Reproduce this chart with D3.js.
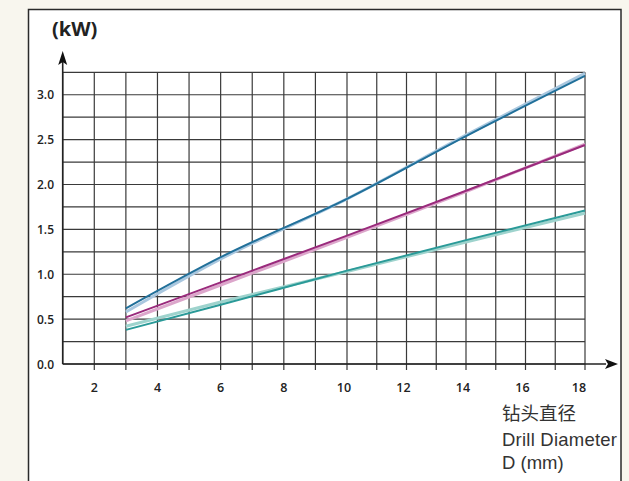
<!DOCTYPE html>
<html><head><meta charset="utf-8">
<script src="https://cdn.jsdelivr.net/npm/d3@7"></script>
<style>
html,body{margin:0;padding:0;background:#f8f6ee;}
svg{display:block;}
</style></head>
<body>
<svg id="chart" width="629" height="481"></svg>
<script>
// ---- data ----
const diameters = [3, 6, 10, 14, 18];
const blueMain   = [0.62, 1.19, 1.84, 2.54, 3.21];
const blueAlt    = [0.58, 1.17, 1.84, 2.55, 3.24];
const pinkMain   = [0.52, 0.91, 1.43, 1.93, 2.44];
const pinkAlt    = [0.48, 0.88, 1.41, 1.92, 2.45];
const tealMain   = [0.38, 0.66, 1.04, 1.38, 1.71];
const tealAlt    = [0.42, 0.69, 1.03, 1.36, 1.68];
const xTicks = [2, 4, 6, 8, 10, 12, 14, 16, 18];
const yTicks = [0.0, 0.5, 1.0, 1.5, 2.0, 2.5, 3.0];
const yUnit = "(kW)";
const xTitle = ["钻头直径", "Drill Diameter", "D (mm)"];

const svg = d3.select("#chart");

// panel
svg.append("rect").attr("x", 28.5).attr("y", 9.5).attr("width", 592.5).attr("height", 490)
  .attr("fill", "#fff").attr("stroke", "#2a2a2a").attr("stroke-width", 1.5);

const x = d3.scaleLinear().domain([1, 10, 18]).range([62.7, 347, 585]);
const y = d3.scaleLinear().domain([0, 3.25]).range([364, 72.3]);

// grid
const g = svg.append("g");
g.selectAll(".vg").data(d3.range(1, 19)).join("line")
  .attr("x1", d => x(d)).attr("x2", d => x(d))
  .attr("y1", y(3.25)).attr("y2", d => d === 1 ? y(0) : y(0) + 6)
  .attr("stroke", "#3a3a3a").attr("stroke-width", 1.2);
g.selectAll(".hg").data(d3.range(0, 14).map(i => i * 0.25)).join("line")
  .attr("x1", x(1)).attr("x2", x(18))
  .attr("y1", d => y(d)).attr("y2", d => y(d))
  .attr("stroke", "#3a3a3a").attr("stroke-width", 1.2);

// axes lines with arrows
svg.append("line").attr("x1", x(1)).attr("x2", 606).attr("y1", y(0)).attr("y2", y(0))
  .attr("stroke", "#222").attr("stroke-width", 1.6);
svg.append("path").attr("d", `M605,${y(0)-5} L618,${y(0)} L605,${y(0)+5} L608,${y(0)} Z`).attr("fill", "#111");
svg.append("line").attr("x1", x(1)).attr("x2", x(1)).attr("y1", y(0)).attr("y2", 60)
  .attr("stroke", "#222").attr("stroke-width", 1.6);
svg.append("path").attr("d", `M${x(1)-4.5},65 L${x(1)},51 L${x(1)+4.5},65 L${x(1)},62 Z`).attr("fill", "#111");

// tick labels
svg.selectAll(".xt").data(xTicks).join("text")
  .attr("x", d => x(d) - (d === 18 ? 6 : (d >= 10 ? 3 : 0))).attr("y", 392)
  .attr("text-anchor", "middle").attr("font-family", "Open Sans, sans-serif")
  .attr("font-weight", 600).attr("font-size", 12.5).attr("fill", "#222").text(d => d);
svg.selectAll(".yt").data(yTicks).join("text")
  .attr("x", 54).attr("y", d => y(d) + 4.5)
  .attr("text-anchor", "end").attr("font-family", "Open Sans, sans-serif")
  .attr("font-weight", 600).attr("font-size", 12).attr("fill", "#222").text(d => d.toFixed(1));

svg.append("text").attr("x", 52).attr("y", 36).attr("font-family", "Open Sans, sans-serif")
  .attr("font-weight", 700).attr("font-size", 20).attr("fill", "#222").text(yUnit);

// x title
svg.append("text").attr("x", 502).attr("y", 420).attr("font-family", "Noto Sans CJK SC, sans-serif")
  .attr("font-size", 18.5).attr("fill", "#333").text(xTitle[0]);
svg.append("text").attr("x", 502).attr("y", 446).attr("font-family", "Liberation Sans, Arial, sans-serif")
  .attr("font-size", 18.5).attr("fill", "#333").attr("textLength", 115).text(xTitle[1]);
svg.append("text").attr("x", 502).attr("y", 469).attr("font-family", "Liberation Sans, Arial, sans-serif")
  .attr("font-size", 18.5).attr("fill", "#333").text(xTitle[2]);

// series
const line = d3.line().curve(d3.curveMonotoneX).x((d, i) => x(diameters[i])).y(d => y(d));
const series = [
  {v: tealAlt, c: "#9ed3cd", w: 3},
  {v: tealMain, c: "#2a9a98", w: 2},
  {v: pinkAlt, c: "#dca6cb", w: 3},
  {v: pinkMain, c: "#9a2a7c", w: 2},
  {v: blueAlt, c: "#a9c7df", w: 3},
  {v: blueMain, c: "#21709a", w: 2}
];
svg.selectAll(".s").data(series).join("path")
  .attr("d", d => line(d.v)).attr("fill", "none")
  .attr("stroke", d => d.c).attr("stroke-width", d => d.w);
</script>
</body></html>
